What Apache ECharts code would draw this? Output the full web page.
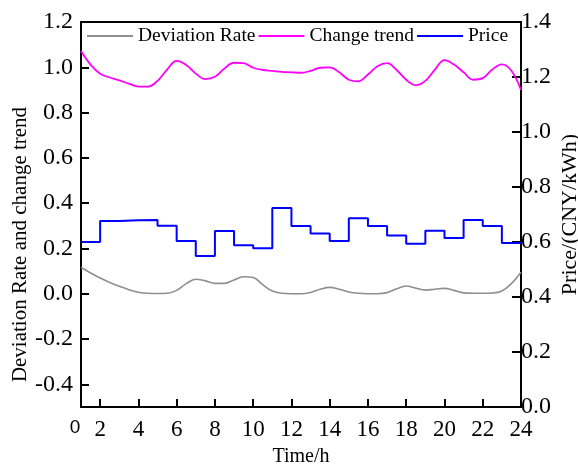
<!DOCTYPE html>
<html><head><meta charset="utf-8">
<script src="https://cdn.jsdelivr.net/npm/echarts@6/dist/echarts.min.js"></script>
<style>html,body{margin:0;padding:0;background:#fff}#c{width:578px;height:466px}</style>
</head><body><div id="c"></div>
<script>
// smooth curves sampled every half hour
const hours = [1,1.5,2,2.5,3,3.5,4,4.5,5,5.5,6,6.5,7,7.5,8,8.5,9,9.5,10,10.5,11,11.5,12,12.5,13,13.5,14,14.5,15,15.5,16,16.5,17,17.5,18,18.5,19,19.5,20,20.5,21,21.5,22,22.5,23,23.5,24];
const deviationRate = [0.117,0.092,0.070,0.050,0.033,0.018,0.007,0.002,0.001,0.002,0.015,0.045,0.064,0.057,0.046,0.046,0.061,0.075,0.072,0.040,0.012,0.002,0.000,0.000,0.006,0.020,0.028,0.020,0.008,0.002,0.000,0.000,0.005,0.022,0.034,0.025,0.016,0.020,0.024,0.015,0.004,0.002,0.002,0.003,0.012,0.045,0.095];
const changeTrend = [1.072,1.012,0.972,0.955,0.942,0.928,0.915,0.915,0.940,0.990,1.028,1.010,0.972,0.948,0.958,0.995,1.020,1.018,0.998,0.988,0.984,0.980,0.978,0.976,0.984,0.998,1.000,0.978,0.945,0.938,0.968,1.005,1.018,0.988,0.945,0.921,0.940,0.990,1.032,1.012,0.978,0.945,0.952,0.990,1.013,0.985,0.900];
// hourly price (step), hours 1..24
const priceHours = [1,2,3,4,5,6,7,8,9,10,11,12,13,14,15,16,17,18,19,20,21,22,23,24];
const price = [0.600,0.676,0.679,0.680,0.659,0.604,0.549,0.640,0.588,0.577,0.724,0.658,0.631,0.604,0.686,0.658,0.624,0.594,0.641,0.615,0.680,0.658,0.596,0.596];
const xTicks = [1,2,4,6,8,10,12,14,16,18,20,22,24];
const leftTicks = [-0.4,-0.2,0,0.2,0.4,0.6,0.8,1.0,1.2];
const seriesNames = ['Deviation Rate','Change trend','Price'];

const font = 'Liberation Serif';
const chart = echarts.init(document.getElementById('c'), null, {renderer:'canvas'});
const zip = (xs, ys) => xs.map((x,i)=>[x, ys[i]]);
chart.setOption({
  animation:false,
  backgroundColor:'#fff',
  grid:{left:81,right:57,top:22,bottom:59,containLabel:false,outerBoundsMode:'none',
        show:true,borderColor:'#000',borderWidth:2,backgroundColor:'transparent'},
  legend:{
    left:82, top:21, itemWidth:46, itemHeight:2, itemGap:3, icon:'rect',
    textStyle:{fontFamily:font,fontSize:19.5,color:'#000'},
    data:seriesNames
  },
  xAxis:{
    type:'value', min:1, max:24,
    name:'Time/h', nameLocation:'middle', nameGap:40, nameMoveOverlap:false,
    nameTextStyle:{fontFamily:font,fontSize:20,color:'#000'},
    axisLine:{onZero:false,lineStyle:{color:'#000',width:2}},
    axisTick:{inside:true,length:8,lineStyle:{color:'#000',width:2},customValues:xTicks.slice(1)},
    axisLabel:{
      customValues:xTicks, margin:11,
      fontFamily:font, fontSize:23, color:'#000',
      formatter:v => v===1 ? '{z|0}' : String(v),
      rich:{z:{fontFamily:'Liberation Sans',fontSize:19,color:'#000',padding:[0,12,0,0]}}
    },
    splitLine:{show:false}
  },
  yAxis:[{
    type:'value', min:-0.5, max:1.2, position:'left',
    name:'Deviation Rate and change trend', nameLocation:'middle', nameGap:50, nameRotate:90, nameMoveOverlap:false,
    nameTextStyle:{fontFamily:font,fontSize:21,color:'#000',padding:[0,60,0,0]},
    axisLine:{show:true,onZero:false,lineStyle:{color:'#000',width:2}},
    axisTick:{show:true,inside:true,length:8,lineStyle:{color:'#000',width:2},customValues:leftTicks},
    axisLabel:{customValues:leftTicks,margin:8,fontFamily:font,fontSize:24,color:'#000',formatter:v=>v.toFixed(1)},
    splitLine:{show:false}
  },{
    type:'value', min:0, max:1.4, interval:0.2, position:'right',
    name:'Price/(CNY/kWh)', nameLocation:'middle', nameGap:38, nameRotate:90, nameMoveOverlap:false,
    nameTextStyle:{fontFamily:font,fontSize:22,color:'#000'},
    axisLine:{show:true,onZero:false,lineStyle:{color:'#000',width:2}},
    axisTick:{show:true,inside:true,length:9,lineStyle:{color:'#000',width:2}},
    axisLabel:{margin:0,fontFamily:font,fontSize:24,color:'#000',formatter:v=>v.toFixed(1)},
    splitLine:{show:false}
  }],
  series:[
    {name:seriesNames[0],type:'line',yAxisIndex:0,data:zip(hours,deviationRate),smooth:0.4,symbol:'none',
     lineStyle:{color:'#8f8f8f',width:1.6},itemStyle:{color:'#8f8f8f'}},
    {name:seriesNames[1],type:'line',yAxisIndex:0,data:zip(hours,changeTrend),smooth:0.4,symbol:'none',
     lineStyle:{color:'#ff00ff',width:1.8},itemStyle:{color:'#ff00ff'}},
    {name:seriesNames[2],type:'line',yAxisIndex:1,data:zip(priceHours,price),step:'end',symbol:'none',
     lineStyle:{color:'#0000ff',width:2},itemStyle:{color:'#0000ff'}}
  ]
});
</script></body></html>
